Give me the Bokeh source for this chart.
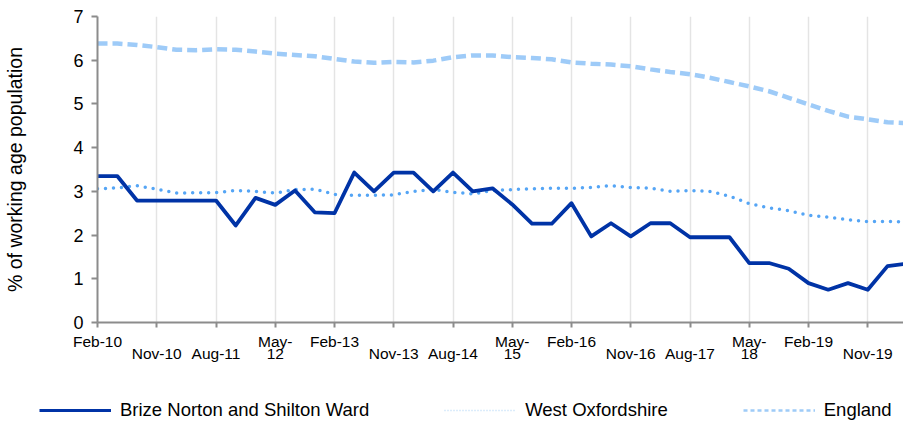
from bokeh.plotting import figure
from bokeh.layouts import column
from bokeh.models import Range1d, FixedTicker, Legend, LegendItem, LinearAxis
from bokeh.embed import file_html
from bokeh.resources import INLINE

quarters = [
    "Feb-10", "May-10", "Aug-10", "Nov-10",
    "Feb-11", "May-11", "Aug-11", "Nov-11",
    "Feb-12", "May-12", "Aug-12", "Nov-12",
    "Feb-13", "May-13", "Aug-13", "Nov-13",
    "Feb-14", "May-14", "Aug-14", "Nov-14",
    "Feb-15", "May-15", "Aug-15", "Nov-15",
    "Feb-16", "May-16", "Aug-16", "Nov-16",
    "Feb-17", "May-17", "Aug-17", "Nov-17",
    "Feb-18", "May-18", "Aug-18", "Nov-18",
    "Feb-19", "May-19", "Aug-19", "Nov-19",
    "Feb-20", "May-20",
]

brize = [3.35, 3.35, 2.79, 2.79, 2.79, 2.79, 2.79, 2.22, 2.85, 2.69,
         3.02, 2.52, 2.50, 3.43, 3.00, 3.43, 3.43, 3.00, 3.43, 3.00,
         3.07, 2.70, 2.26, 2.26, 2.73, 1.97, 2.27, 1.97, 2.27, 2.27,
         1.95, 1.95, 1.95, 1.36, 1.36, 1.23, 0.90, 0.75, 0.90, 0.75,
         1.29, 1.35]

west_oxfordshire = [3.06, 3.08, 3.13, 3.05, 2.96, 2.97, 2.97, 3.02, 3.00, 2.96,
                    3.04, 3.05, 2.93, 2.91, 2.91, 2.92, 3.00, 3.04, 2.98, 2.94,
                    3.02, 3.04, 3.06, 3.07, 3.07, 3.09, 3.13, 3.09, 3.07, 3.00,
                    3.02, 3.00, 2.89, 2.72, 2.62, 2.56, 2.45, 2.41, 2.35, 2.31,
                    2.31, 2.30]

england = [6.38, 6.38, 6.35, 6.30, 6.24, 6.23, 6.25, 6.24, 6.20, 6.15,
           6.12, 6.09, 6.03, 5.97, 5.94, 5.96, 5.95, 5.99, 6.07, 6.11,
           6.11, 6.07, 6.05, 6.02, 5.95, 5.92, 5.90, 5.86, 5.79, 5.73,
           5.68, 5.60, 5.50, 5.40, 5.29, 5.14, 4.99, 4.84, 4.71, 4.65,
           4.58, 4.56]

tick_labels = ["Feb-10", "Nov-10", "Aug-11", "May-\n12", "Feb-13", "Nov-13",
               "Aug-14", "May-\n15", "Feb-16", "Nov-16", "Aug-17", "May-\n18",
               "Feb-19", "Nov-19"]

y_ticks = [0, 1, 2, 3, 4, 5, 6, 7]

series_names = ["Brize Norton and Shilton Ward", "West Oxfordshire", "England"]
y_title = "% of working age population"

FONT = "Liberation Sans"
AXIS_GREY = "#8c8c8c"
C_BRIZE, C_WEST, C_ENG = "#0033a6", "#55a5f5", "#9ecbf8"

x = list(range(len(quarters)))
tick_pos = [quarters.index(t.replace("\n", "")) for t in tick_labels]

# split the category labels over two label rows
row_top, row_low = {}, {}
for pos, lbl in zip(tick_pos, tick_labels):
    parts = lbl.split("\n")
    if len(parts) == 2:
        row_top[pos], row_low[pos] = parts[0], parts[1]
    elif lbl.startswith("Feb"):
        row_top[pos], row_low[pos] = lbl, ""
    else:
        row_top[pos], row_low[pos] = "", lbl

# ---------------- main chart ----------------
p = figure(frame_width=806, frame_height=306,
           min_border_left=97, min_border_right=0,
           min_border_top=16, min_border_bottom=60,
           x_range=Range1d(0, 806 / 19.75), y_range=Range1d(0, 7),
           output_backend="svg", toolbar_location=None)

p.outline_line_color = None
p.background_fill_color = "white"
p.border_fill_color = "white"

p.line(x, england, line_color=C_ENG, line_width=4.5, line_dash="10 5")
p.line(x, west_oxfordshire, line_color=C_WEST, line_width=3.5,
       line_dash="0 8", line_cap="round")
p.line(x, brize, line_color=C_BRIZE, line_width=3.8, line_join="round")

xa = p.xaxis[0]
xa.ticker = FixedTicker(ticks=tick_pos)
xa.major_label_overrides = row_top
p.yaxis.ticker = FixedTicker(ticks=y_ticks)
for ax in (xa, p.yaxis[0]):
    ax.axis_line_color = AXIS_GREY
    ax.axis_line_width = 2
    ax.major_tick_line_color = AXIS_GREY
    ax.major_tick_line_width = 2
    ax.major_tick_in = 0
    ax.minor_tick_line_color = None
xa.major_tick_out = 5
xa.major_label_standoff = 5
xa.major_label_text_font = FONT
xa.major_label_text_font_size = "15.5px"
xa.major_label_text_color = "black"

xb = LinearAxis(ticker=FixedTicker(ticks=tick_pos),
                major_label_overrides=row_low,
                axis_line_color=None, major_tick_line_color=None,
                minor_tick_line_color=None, major_tick_in=0, major_tick_out=0,
                major_label_standoff=-8,
                major_label_text_font=FONT, major_label_text_font_size="15.5px",
                major_label_text_color="black")
p.add_layout(xb, "below")

p.yaxis.major_tick_out = 6
p.yaxis.major_label_standoff = 8
p.yaxis.major_label_text_font = FONT
p.yaxis.major_label_text_font_size = "18px"
p.yaxis.major_label_text_color = "black"
p.yaxis.axis_label = y_title
p.yaxis.axis_label_text_font = FONT
p.yaxis.axis_label_text_font_size = "19.5px"
p.yaxis.axis_label_text_font_style = "normal"
p.yaxis.axis_label_text_color = "black"
p.yaxis.axis_label_standoff = 44

p.xgrid.grid_line_color = "#e4e4e4"
p.xgrid.grid_line_width = 1.5
p.ygrid.grid_line_color = None

# ---------------- legend strip ----------------
# the legend's key lines carry the same series, drawn outside this strip's visible range
leg = figure(frame_width=903, frame_height=41, min_border=0,
             x_range=Range1d(0, 1), y_range=Range1d(-10, -9),
             x_axis_type=None, y_axis_type=None,
             output_backend="svg", toolbar_location=None)
leg.outline_line_color = None
leg.xgrid.grid_line_color = None
leg.ygrid.grid_line_color = None

k_brize = leg.line(x, brize, line_color=C_BRIZE, line_width=3)
k_west = leg.line(x, west_oxfordshire, line_color="#b9daf8", line_width=1.5,
                  line_dash="1 2")
k_eng = leg.line(x, england, line_color=C_ENG, line_width=2.5, line_dash="4 3")

legend = Legend(items=[LegendItem(label=series_names[0], renderers=[k_brize]),
                       LegendItem(label=series_names[1], renderers=[k_west]),
                       LegendItem(label=series_names[2], renderers=[k_eng])],
                orientation="horizontal", location=(39, 2),
                glyph_width=72, glyph_height=20, label_height=20,
                label_standoff=9, spacing=75, padding=0, margin=0,
                border_line_color=None, background_fill_alpha=0,
                label_text_font=FONT, label_text_font_size="18.5px",
                label_text_color="black")
leg.add_layout(legend)

layout = column(p, leg, spacing=0)
open("out.html", "w").write(file_html(layout, INLINE))
